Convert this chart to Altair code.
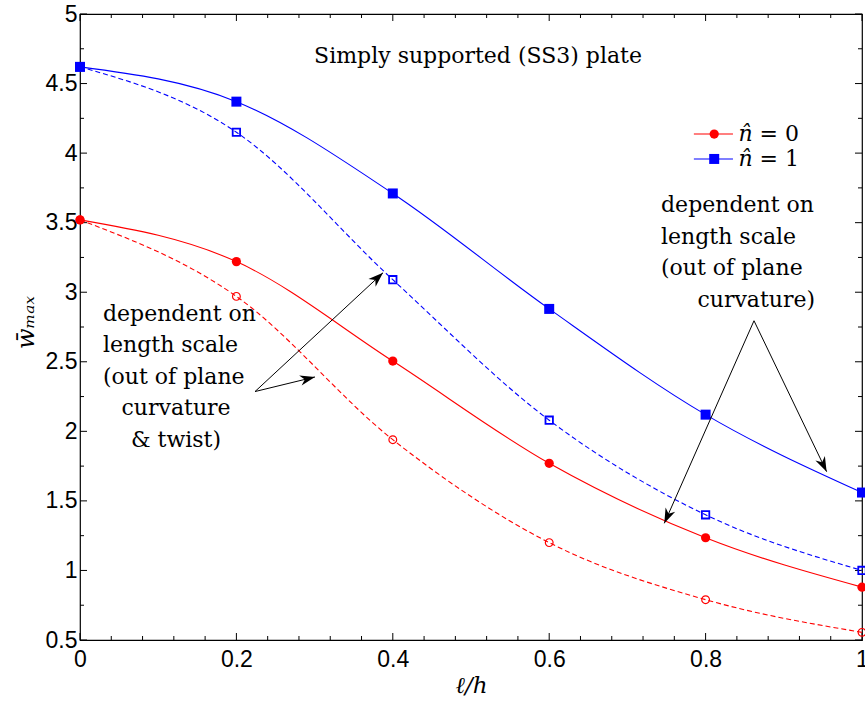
import math
import altair as alt
import pandas as pd

# ---------------- data ----------------
x_vals = [0.0, 0.2, 0.4, 0.6, 0.8, 1.0]
blue_solid = [4.62, 4.37, 3.71, 2.88, 2.12, 1.56]     # n^ = 1, filled squares
blue_dashed = [4.62, 4.15, 3.09, 2.08, 1.40, 1.00]    # n^ = 1, open squares
red_solid = [3.52, 3.22, 2.505, 1.77, 1.235, 0.88]    # n^ = 0, filled circles
red_dashed = [3.52, 2.97, 1.94, 1.20, 0.79, 0.555]    # n^ = 0, open circles

x_label_values = [0, 0.2, 0.4, 0.6, 0.8, 1]
x_minor_ticks = [0.04, 0.08, 0.12, 0.16, 0.24, 0.28, 0.32, 0.36, 0.44, 0.48, 0.52, 0.56,
                 0.64, 0.68, 0.72, 0.76, 0.84, 0.88, 0.92, 0.96]
y_label_values = [0.5, 1, 1.5, 2, 2.5, 3, 3.5, 4, 4.5, 5]
y_minor_ticks = [0.75, 1.25, 1.75, 2.25, 2.75, 3.25, 3.75, 4.25, 4.75]

title_text = ["Simply supported (SS3) plate"]
title_x = [0.509]
title_y = [4.70]

legend_symbols = ["n\u0302", "n\u0302"]
legend_values = ["= 0", "= 1"]
legend_y = [4.137, 3.958]
legend_line_x = [0.785, 0.835]
legend_marker_x = [0.811]
legend_sym_x = [0.842]
legend_val_x = [0.869]

right_lines_left = ["dependent on", "length scale", "(out of plane"]
right_lines_left_y = [3.627, 3.397, 3.174]
right_lines_right = ["curvature)"]
right_lines_right_y = [2.944]
right_left_x = [0.743]
right_right_x = [0.940]

left_lines_left = ["dependent on", "length scale", "(out of plane"]
left_lines_left_y = [2.843, 2.621, 2.391]
left_lines_center = ["curvature", "& twist)"]
left_lines_center_y = [2.168, 1.938]
left_left_x = [0.0294]
left_center_x = [0.1228]

arrow_from_x = [0.2238, 0.2238, 0.8619, 0.8619]
arrow_from_y = [2.286, 2.286, 2.795, 2.795]
arrow_to_x = [0.3875, 0.3005, 0.7472, 0.9548]
arrow_to_y = [3.140, 2.391, 1.339, 1.710]

# ---------------- layout ----------------
W, H = 782, 626
X_DOM = [0, 1]
Y_DOM = [0.5, 5]
BLUE = "#0000FF"
RED = "#FF0000"
SERIF = "DejaVu Serif"
SANS = "Liberation Sans"

xs = alt.Scale(domain=X_DOM, nice=False, zero=False)
ys = alt.Scale(domain=Y_DOM, nice=False, zero=False)

x_axis = alt.Axis(
    values=x_label_values, format="~g", ticks=False, domain=False, grid=False,
    labelFont=SANS, labelFontSize=23, labelColor="black", labelPadding=8,
    labelFlush=False,
    title="\u2113/h", titleFont=SERIF, titleFontStyle="italic",
    titleFontWeight="normal", titleFontSize=23, titleColor="black",
    titleY=45, titleBaseline="middle")
y_axis = alt.Axis(
    values=y_label_values, format="~g", ticks=False, domain=False, grid=False,
    labelFont=SANS, labelFontSize=23, labelColor="black", labelPadding=3,
    labelFlush=False,
    title="w\u0304\u2098\u2090\u2093", titleFont=SERIF, titleFontStyle="italic",
    titleFontWeight="normal", titleFontSize=24, titleColor="black",
    titleX=-54, titleY=H / 2 - 5, titleAngle=270, titleAlign="center",
    titleBaseline="middle")


def X(field="x"):
    return alt.X(f"{field}:Q", scale=xs, axis=x_axis)


def Y(field="y"):
    return alt.Y(f"{field}:Q", scale=ys, axis=y_axis)


layers = []

# inward tick marks on all four sides
def tick_layers(values, length, axis):
    df = pd.DataFrame({"v": values})
    out = []
    if axis == "x":
        out.append(alt.Chart(df).mark_rule(color="black", strokeWidth=1).encode(
            x=X("v"), y=alt.value(H), y2=alt.value(H - length)))
        out.append(alt.Chart(df).mark_rule(color="black", strokeWidth=1).encode(
            x=X("v"), y=alt.value(0), y2=alt.value(length)))
    else:
        out.append(alt.Chart(df).mark_rule(color="black", strokeWidth=1).encode(
            y=Y("v"), x=alt.value(0), x2=alt.value(length)))
        out.append(alt.Chart(df).mark_rule(color="black", strokeWidth=1).encode(
            y=Y("v"), x=alt.value(W), x2=alt.value(W - length)))
    return out

layers += tick_layers(x_label_values, 7, "x")
layers += tick_layers(x_minor_ticks, 4, "x")
layers += tick_layers(y_label_values, 7, "y")
layers += tick_layers(y_minor_ticks, 4, "y")

# series
def series(values, color, dashed, shape, filled, size, sw):
    df = pd.DataFrame({"x": x_vals, "y": values})
    line_kw = dict(color=color, strokeWidth=1.1, interpolate="monotone")
    if dashed:
        line_kw["strokeDash"] = [5, 3]
    line = alt.Chart(df).mark_line(**line_kw).encode(x=X(), y=Y())
    pts = alt.Chart(df).mark_point(shape=shape, filled=filled, color=color, size=size,
                                   strokeWidth=sw, opacity=1).encode(x=X(), y=Y())
    return [line, pts]

layers += series(red_dashed, RED, True, "circle", False, 60, 1.2)
layers += series(red_solid, RED, False, "circle", True, 85, 1)
layers += series(blue_dashed, BLUE, True, "square", False, 55, 1.8)
layers += series(blue_solid, BLUE, False, "square", True, 100, 1)

# arrows
arr_df = pd.DataFrame({"x": arrow_from_x, "y": arrow_from_y,
                       "x2": arrow_to_x, "y2": arrow_to_y})
ang = []
for fx, fy, tx, ty in zip(arrow_from_x, arrow_from_y, arrow_to_x, arrow_to_y):
    dxp = (tx - fx) * W / (X_DOM[1] - X_DOM[0])
    dyp = -(ty - fy) * H / (Y_DOM[1] - Y_DOM[0])
    ang.append(math.degrees(math.atan2(dxp, -dyp)) % 360)
arr_df["angle"] = ang
layers.append(alt.Chart(arr_df).mark_rule(color="black", strokeWidth=1).encode(
    x=X("x"), y=Y("y"), x2="x2:Q", y2="y2:Q"))
head_shape = "M0,0 L0.7,2 L0,1.4 L-0.7,2 Z"
layers.append(alt.Chart(arr_df).mark_point(shape=head_shape, filled=True, color="black",
                                           size=225, opacity=1).encode(
    x=X("x2"), y=Y("y2"), angle=alt.Angle("angle:Q", scale=None)))

# legend
for sym, val, ly, col, shp, sz in zip(legend_symbols, legend_values, legend_y, [RED, BLUE],
                                      ["circle", "square"], [85, 100]):
    ldf = pd.DataFrame({"x": [legend_line_x[0]], "x2": [legend_line_x[1]], "y": [ly]})
    layers.append(alt.Chart(ldf).mark_rule(color=col, strokeWidth=1.1).encode(
        x=X("x"), x2="x2:Q", y=Y("y")))
    pdf = pd.DataFrame({"x": legend_marker_x, "y": [ly]})
    layers.append(alt.Chart(pdf).mark_point(shape=shp, filled=True, color=col, size=sz,
                                            opacity=1).encode(x=X(), y=Y()))
    sdf = pd.DataFrame({"x": legend_sym_x, "y": [ly], "t": [sym]})
    layers.append(alt.Chart(sdf).mark_text(align="left", baseline="middle", font=SERIF,
                                           fontStyle="italic", fontSize=22, color="black").encode(
        x=X(), y=Y(), text="t:N"))
    vdf = pd.DataFrame({"x": legend_val_x, "y": [ly], "t": [val]})
    layers.append(alt.Chart(vdf).mark_text(align="left", baseline="middle", font=SERIF,
                                           fontSize=22, color="black").encode(
        x=X(), y=Y(), text="t:N"))

# texts
def text_layer(xs_, ys_, texts, align):
    df = pd.DataFrame({"x": xs_ * len(texts) if len(xs_) == 1 else xs_, "y": ys_, "t": texts})
    return alt.Chart(df).mark_text(align=align, baseline="middle", font=SERIF, fontSize=22,
                                   color="black").encode(x=X(), y=Y(), text="t:N")

layers.append(text_layer(title_x, title_y, title_text, "center"))
layers.append(text_layer(right_left_x, right_lines_left_y, right_lines_left, "left"))
layers.append(text_layer(right_right_x, right_lines_right_y, right_lines_right, "right"))
layers.append(text_layer(left_left_x, left_lines_left_y, left_lines_left, "left"))
layers.append(text_layer(left_center_x, left_lines_center_y, left_lines_center, "center"))

chart = alt.layer(*layers).properties(
    width=W, height=H,
    autosize=alt.AutoSizeParams(type="none"),
    padding={"left": 80, "top": 14, "right": 3, "bottom": 62},
    background="white",
).configure_view(stroke="black", strokeWidth=1.2)

chart.save("out.html", embed_options={"renderer": "svg", "actions": False})
